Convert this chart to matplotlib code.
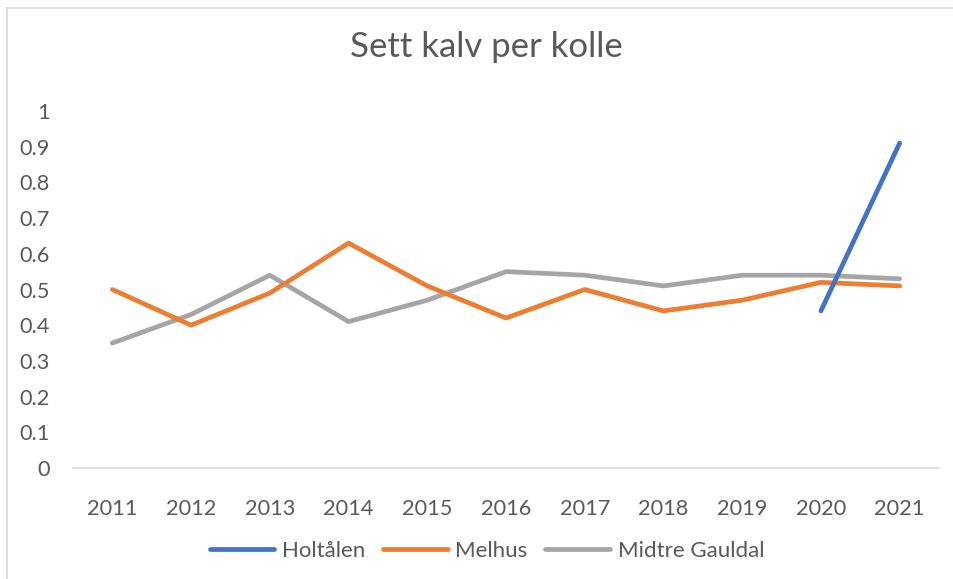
import matplotlib.pyplot as plt
from matplotlib.lines import Line2D

# data
years = ["2011", "2012", "2013", "2014", "2015", "2016", "2017", "2018", "2019", "2020", "2021"]
holtalen = [None, None, None, None, None, None, None, None, None, 0.44, 0.91]
melhus = [0.50, 0.40, 0.49, 0.63, 0.51, 0.42, 0.50, 0.44, 0.47, 0.52, 0.51]
midtre_gauldal = [0.35, 0.43, 0.54, 0.41, 0.47, 0.55, 0.54, 0.51, 0.54, 0.54, 0.53]
yticks = [0, 0.1, 0.2, 0.3, 0.4, 0.5, 0.6, 0.7, 0.8, 0.9, 1]
ytick_labels = ["0", "0.1", "0.2", "0.3", "0.4", "0.5", "0.6", "0.7", "0.8", "0.9", "1"]

TXT = "#595959"
plt.rcParams["font.family"] = ["Lato", "DejaVu Sans"]

fig = plt.figure(figsize=(9.54, 5.79), dpi=100)
ax = fig.add_axes([73 / 954, 1 - 468 / 579, (939 - 73) / 954, (468 - 111) / 579])

x = list(range(len(years)))
hx = [i for i, v in zip(x, holtalen) if v is not None]
hy = [v for v in holtalen if v is not None]
lw = 3.4
ax.plot(hx, hy, color="#4472C4", lw=lw, solid_capstyle="round", label="Holtålen", zorder=4)
ax.plot(x, melhus, color="#ED7D31", lw=lw, solid_capstyle="round", solid_joinstyle="round", label="Melhus", zorder=3)
ax.plot(x, midtre_gauldal, color="#A5A5A5", lw=lw, solid_capstyle="round", solid_joinstyle="round", label="Midtre Gauldal", zorder=2)

ax.set_xlim(-0.5, len(years) - 0.5)
ax.set_ylim(0, 1)
ax.set_xticks(x)
ax.set_xticklabels(years)
ax.set_yticks(yticks)
ax.set_yticklabels(ytick_labels)
ax.tick_params(length=0, labelsize=15.7, colors=TXT)
ax.tick_params(axis="x", pad=22)
ax.tick_params(axis="y", pad=16.5)

for s in ["top", "right", "left"]:
    ax.spines[s].set_visible(False)
ax.spines["bottom"].set_color("#D9D9D9")
ax.spines["bottom"].set_linewidth(1.2)

fig.text(486 / 954, 1 - 57 / 579, "Sett kalv per kolle", ha="center", va="baseline",
         fontsize=25, color=TXT)

leg = fig.legend(loc="center", bbox_to_anchor=(487 / 954, 1 - 551 / 579), ncol=3,
                 frameon=False, fontsize=16, handlelength=2.9, columnspacing=0.8,
                 handletextpad=0.35, labelcolor=TXT)

# chart border (only left and top are visible in the reference)
fig.add_artist(Line2D([7.5 / 954, 7.5 / 954], [0, 1 - 7.5 / 579], color="#D9D9D9", lw=1.2))
fig.add_artist(Line2D([7.5 / 954, 1], [1 - 7.5 / 579, 1 - 7.5 / 579], color="#D9D9D9", lw=1.2))

fig.savefig("out.png", dpi=100, facecolor="white")
